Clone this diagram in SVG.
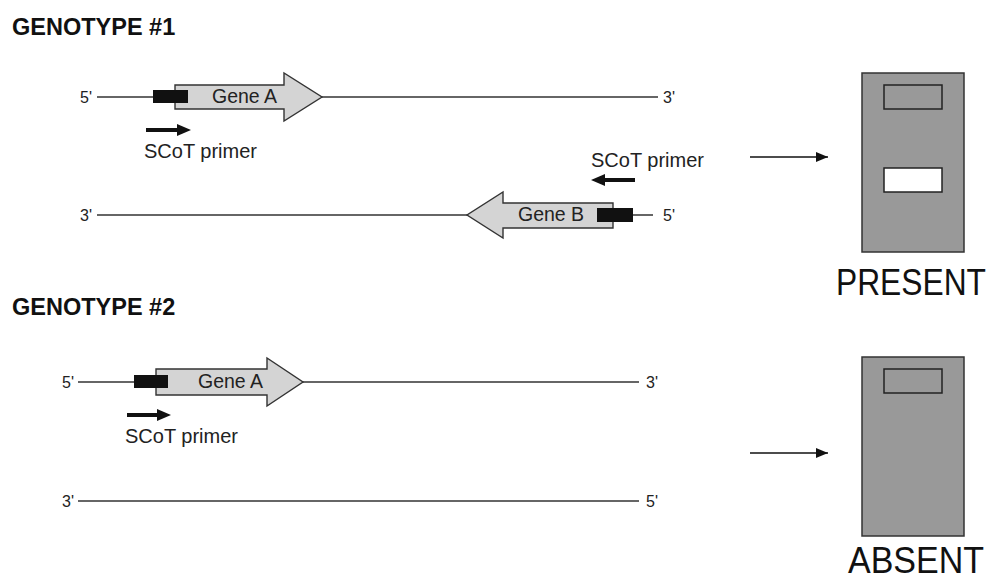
<svg xmlns="http://www.w3.org/2000/svg" width="1000" height="581" viewBox="0 0 1000 581">
<defs>
<style>
.hd{font-family:"Liberation Sans",Arial,sans-serif;font-weight:bold;font-size:23.5px;fill:#111}
.end{font-family:"Liberation Sans",Arial,sans-serif;font-size:16px;fill:#222}
.lbl{font-family:"Liberation Sans",Arial,sans-serif;font-size:20px;fill:#222}
.glbl{font-family:"Liberation Sans",Arial,sans-serif;font-size:19.5px;fill:#222}
.big{font-family:"Liberation Sans",Arial,sans-serif;font-size:36px;fill:#111}
.dna{stroke:#333;stroke-width:1.4;fill:none}
.gene{fill:#d4d4d4;stroke:#333;stroke-width:1.4}
.site{fill:#111}
.gel{fill:#999;stroke:#333;stroke-width:1.5}
.bandd{fill:#999;stroke:#222;stroke-width:1.5}
.bandw{fill:#fff;stroke:#222;stroke-width:1.5}
.conn{stroke:#111;stroke-width:1.6;fill:none}
</style>
<marker id="ah" viewBox="0 0 12 10" refX="12" refY="5" markerWidth="12" markerHeight="10" markerUnits="userSpaceOnUse" orient="auto">
<path d="M0,0 L12,5 L0,10 z" fill="#111"/>
</marker>
</defs>

<text class="hd" x="12" y="35">GENOTYPE #1</text>
<text class="hd" x="12" y="315">GENOTYPE #2</text>

<g id="g1-strand1">
<text class="end" x="80" y="103">5'</text>
<line class="dna" x1="97" y1="97" x2="658" y2="97"/>
<text class="end" x="663" y="103">3'</text>
<polygon class="gene" points="175,85 284,85 284,73 322,97 284,121 284,109 175,109"/>
<rect class="site" x="153" y="90" width="35" height="13"/>
<text class="glbl" x="212" y="103">Gene A</text>
</g>

<g id="g1-primer1">
<path d="M146,130 H178" stroke="#111" stroke-width="4"/>
<polygon points="177,124 191,130 177,136" fill="#111"/>
<text class="lbl" x="144" y="158">SCoT primer</text>
</g>

<g id="g1-strand2">
<text class="end" x="80" y="221">3'</text>
<line class="dna" x1="97" y1="215" x2="653" y2="215"/>
<text class="end" x="663" y="221">5'</text>
<polygon class="gene" points="613,203 503,203 503,192 467,215 503,238 503,228 613,228"/>
<rect class="site" x="597" y="208" width="36" height="14"/>
<text class="glbl" x="518" y="221">Gene B</text>
</g>

<g id="g1-primer2">
<path d="M635,180 H604" stroke="#111" stroke-width="4"/>
<polygon points="605,174 591,180 605,186" fill="#111"/>
<text class="lbl" x="591" y="167">SCoT primer</text>
</g>

<g id="gel1">
<rect class="gel" x="862" y="73" width="102" height="179"/>
<rect class="bandd" x="884" y="85" width="58" height="24"/>
<rect class="bandw" x="884" y="168" width="58" height="24"/>
<text class="big" x="836" y="295" font-size="33" textLength="150" lengthAdjust="spacingAndGlyphs">PRESENT</text>
</g>

<g id="g2-strand1">
<text class="end" x="62" y="388">5'</text>
<line class="dna" x1="78" y1="382" x2="639" y2="382"/>
<text class="end" x="646" y="388">3'</text>
<polygon class="gene" points="156,369 267,369 267,358 303,382 267,406 267,395 156,395"/>
<rect class="site" x="134" y="375" width="34" height="13"/>
<text class="glbl" x="198" y="388">Gene A</text>
</g>

<g id="g2-primer1">
<path d="M127,415 H158" stroke="#111" stroke-width="4"/>
<polygon points="157,409 171,415 157,421" fill="#111"/>
<text class="lbl" x="125" y="443">SCoT primer</text>
</g>

<g id="g2-strand2">
<text class="end" x="62" y="507">3'</text>
<line class="dna" x1="78" y1="501" x2="639" y2="501"/>
<text class="end" x="646" y="507">5'</text>
</g>

<g id="gel2">
<rect class="gel" x="862" y="357" width="102" height="179"/>
<rect class="bandd" x="884" y="369" width="58" height="24"/>
<text class="big" x="848" y="573" textLength="136" lengthAdjust="spacingAndGlyphs">ABSENT</text>
</g>

<g id="connectors">
<line class="conn" x1="750" y1="157" x2="828" y2="157" marker-end="url(#ah)"/>
<line class="conn" x1="750" y1="453" x2="828" y2="453" marker-end="url(#ah)"/>
</g>
</svg>
